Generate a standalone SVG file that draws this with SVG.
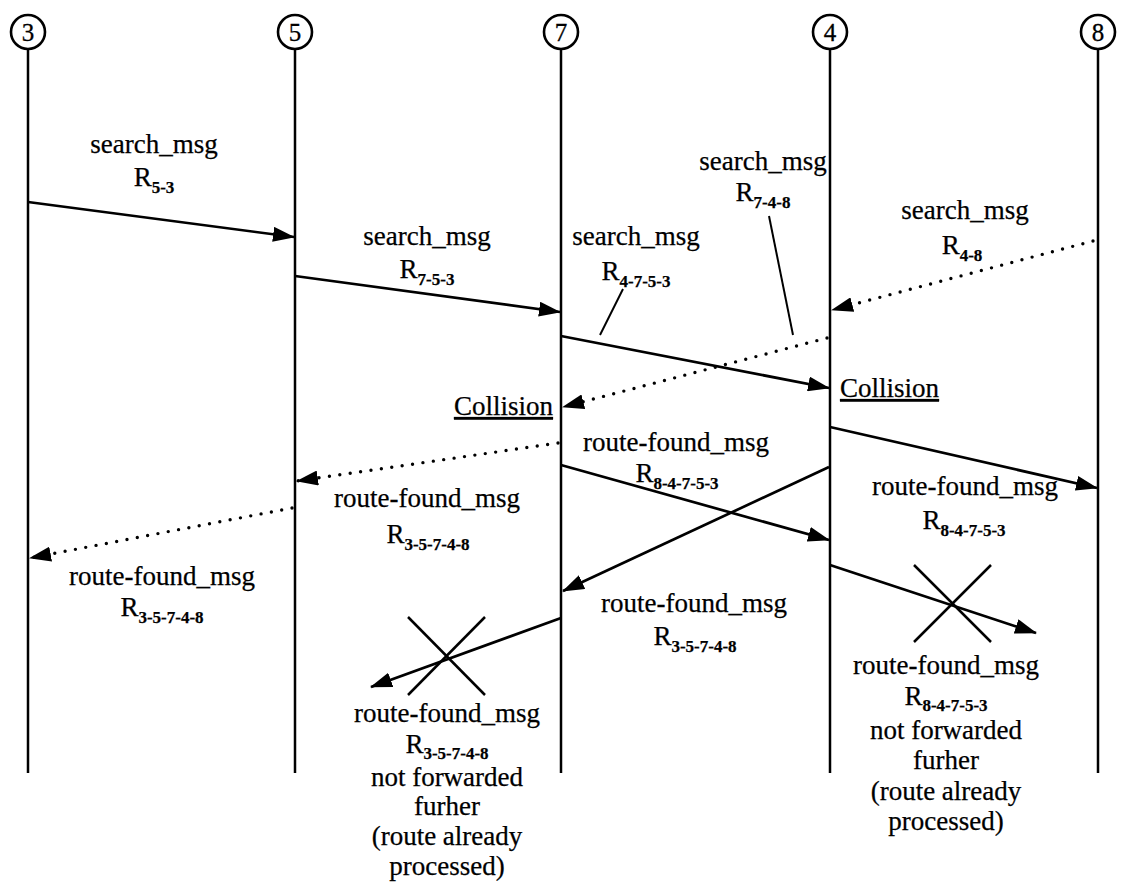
<svg xmlns="http://www.w3.org/2000/svg" width="1128" height="890" viewBox="0 0 1128 890">
  <style>
    .life { stroke: #000; stroke-width: 2.5; fill: none; }
    .node circle { fill: #fff; stroke: #000; stroke-width: 2.6; }
    .node text { font-family: "Liberation Serif", "Times New Roman", serif; font-size: 25px; text-anchor: middle; fill: #000; stroke: #000; stroke-width: 0.3; }
    .msg { stroke: #000; stroke-width: 2.7; fill: none; }
    .dot { stroke: #000; stroke-width: 3.4; fill: none; stroke-linecap: round; stroke-dasharray: 0 10.5; }
    .lead { stroke: #000; stroke-width: 2; fill: none; }
    .cross { stroke: #000; stroke-width: 2.5; fill: none; }
    .lbl { font-family: "Liberation Serif", "Times New Roman", serif; font-size: 27px; fill: #000; stroke: #000; stroke-width: 0.25; text-anchor: middle; }
    .sub { font-size: 17px; font-weight: bold; }
    .ul { text-decoration: underline; }
  </style>
  <defs>
    <marker id="arrow" viewBox="0 0 22 15" refX="21" refY="7.5" markerWidth="22" markerHeight="15" markerUnits="userSpaceOnUse" orient="auto">
      <path d="M0,0 L22,7.5 L0,15 Z" fill="#000"/>
    </marker>
  </defs>

  <!-- lifelines with node heads -->
  <g id="node-3" class="node">
    <line class="life" x1="28" y1="49" x2="28" y2="773"/>
    <circle cx="28" cy="32" r="17"/>
    <text x="28" y="41">3</text>
  </g>
  <g id="node-5" class="node">
    <line class="life" x1="295" y1="49" x2="295" y2="773"/>
    <circle cx="295" cy="32" r="17"/>
    <text x="295" y="41">5</text>
  </g>
  <g id="node-7" class="node">
    <line class="life" x1="561" y1="49" x2="561" y2="773"/>
    <circle cx="561" cy="32" r="17"/>
    <text x="561" y="41">7</text>
  </g>
  <g id="node-4" class="node">
    <line class="life" x1="830" y1="49" x2="830" y2="773"/>
    <circle cx="830" cy="32" r="17"/>
    <text x="830" y="41">4</text>
  </g>
  <g id="node-8" class="node">
    <line class="life" x1="1098" y1="49" x2="1098" y2="773"/>
    <circle cx="1098" cy="32" r="17"/>
    <text x="1098" y="41">8</text>
  </g>

  <!-- messages -->
  <g id="connectors">
    <line class="msg" x1="28" y1="202" x2="294" y2="237" marker-end="url(#arrow)"/>
    <line class="msg" x1="295" y1="276" x2="560" y2="312" marker-end="url(#arrow)"/>
    <line class="msg" x1="561" y1="336" x2="829" y2="388" marker-end="url(#arrow)"/>
    <line class="dot" x1="1093" y1="241" x2="832" y2="310" marker-end="url(#arrow)"/>
    <line class="dot" x1="827" y1="338" x2="563" y2="407" marker-end="url(#arrow)"/>
    <line class="msg" x1="830" y1="427" x2="1097" y2="488" marker-end="url(#arrow)"/>
    <line class="dot" x1="558" y1="443" x2="297" y2="481" marker-end="url(#arrow)"/>
    <line class="msg" x1="561" y1="465" x2="829" y2="540" marker-end="url(#arrow)"/>
    <line class="msg" x1="829" y1="467" x2="563" y2="591" marker-end="url(#arrow)"/>
    <line class="dot" x1="292" y1="508" x2="30" y2="558" marker-end="url(#arrow)"/>
    <line class="msg" x1="830" y1="565" x2="1036" y2="633" marker-end="url(#arrow)"/>
    <line class="msg" x1="561" y1="618" x2="371" y2="687" marker-end="url(#arrow)"/>
    <!-- label leaders -->
    <line class="lead" x1="623" y1="289" x2="600" y2="335"/>
    <line class="lead" x1="769" y1="216" x2="793" y2="335"/>
    <!-- dropped-message crosses -->
    <line class="cross" x1="914" y1="565" x2="991" y2="642"/>
    <line class="cross" x1="991" y1="565" x2="914" y2="642"/>
    <line class="cross" x1="408" y1="617" x2="485" y2="695"/>
    <line class="cross" x1="485" y1="617" x2="408" y2="695"/>
  </g>

  <!-- message labels -->
  <g id="labels" class="lbl">
    <text x="154" y="153">search_msg</text>
    <text x="154" y="186">R<tspan class="sub" dy="7">5-3</tspan></text>

    <text x="427" y="245">search_msg</text>
    <text x="427" y="278">R<tspan class="sub" dy="7">7-5-3</tspan></text>

    <text x="636" y="245">search_msg</text>
    <text x="636" y="280">R<tspan class="sub" dy="7">4-7-5-3</tspan></text>

    <text x="763" y="170">search_msg</text>
    <text x="763" y="201">R<tspan class="sub" dy="7">7-4-8</tspan></text>

    <text x="965" y="219">search_msg</text>
    <text x="962" y="254">R<tspan class="sub" dy="7">4-8</tspan></text>

    <text class="ul" x="553" y="415" style="text-anchor:end">Collision</text>
    <text class="ul" x="840" y="397" style="text-anchor:start">Collision</text>

    <text x="676" y="451">route-found_msg</text>
    <text x="677" y="482">R<tspan class="sub" dy="7">8-4-7-5-3</tspan></text>

    <text x="427" y="507">route-found_msg</text>
    <text x="428" y="543">R<tspan class="sub" dy="7">3-5-7-4-8</tspan></text>

    <text x="965" y="495">route-found_msg</text>
    <text x="964" y="529">R<tspan class="sub" dy="7">8-4-7-5-3</tspan></text>

    <text x="162" y="585">route-found_msg</text>
    <text x="162" y="616">R<tspan class="sub" dy="7">3-5-7-4-8</tspan></text>

    <text x="694" y="612">route-found_msg</text>
    <text x="695" y="645">R<tspan class="sub" dy="7">3-5-7-4-8</tspan></text>

    <text x="447" y="722">route-found_msg</text>
    <text x="447" y="753">R<tspan class="sub" dy="6">3-5-7-4-8</tspan></text>
    <text x="447" y="786">not forwarded</text>
    <text x="447" y="815">furher</text>
    <text x="447" y="845">(route already</text>
    <text x="447" y="875">processed)</text>

    <text x="946" y="674">route-found_msg</text>
    <text x="946" y="705">R<tspan class="sub" dy="6">8-4-7-5-3</tspan></text>
    <text x="946" y="739">not forwarded</text>
    <text x="946" y="769">furher</text>
    <text x="946" y="800">(route already</text>
    <text x="946" y="830">processed)</text>
  </g>
</svg>
